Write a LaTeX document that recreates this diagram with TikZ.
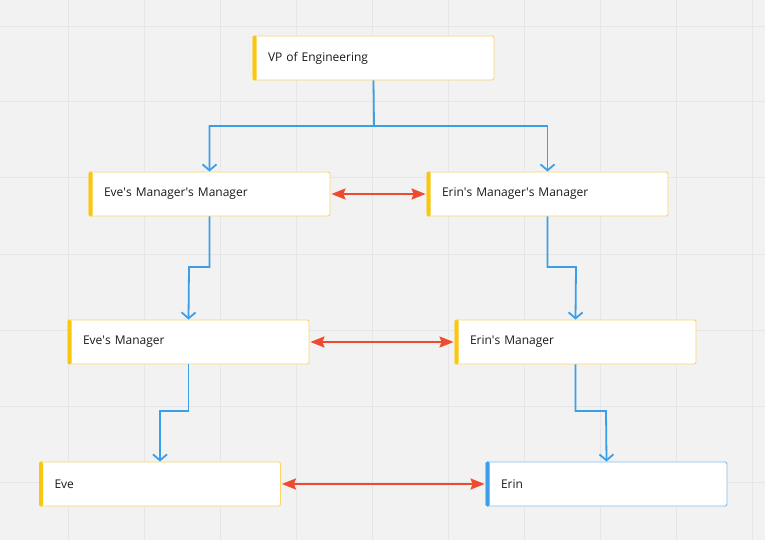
\documentclass[tikz,border=0pt]{standalone}
\usepackage{fontspec}
\setmainfont{Open Sans}
\usetikzlibrary{arrows.meta}
\definecolor{bg}{HTML}{F2F2F2}
\definecolor{gridc}{HTML}{E6E6E6}
\definecolor{yel}{HTML}{FAC710}
\definecolor{yelb}{HTML}{F9D66A}
\definecolor{blu}{HTML}{3A9FE8}
\definecolor{blub}{HTML}{7CC0F2}
\definecolor{redc}{HTML}{EE4A30}
\definecolor{txt}{HTML}{1A1A1A}
\tikzset{
  card/.style={draw=yelb, line width=0.9pt, fill=white, rounded corners=2pt,
    minimum width=241pt, minimum height=44pt, inner sep=0pt,
    text=txt, font=\fontsize{12}{14}\selectfont, align=left, text width=241pt-30pt},
  bluecard/.style={card, draw=blub},
  tree/.style={draw=blu, line width=1.8pt, -{Straight Barb[length=6pt,width=14pt,line width=1.8pt]}},
  peer/.style={draw=redc, line width=2.2pt, {Stealth[length=14pt,width=11pt,inset=2pt]}-{Stealth[length=14pt,width=11pt,inset=2pt]}, shorten <=1pt, shorten >=1pt}
}
\newcommand{\cardbar}[2]{\fill[#2, rounded corners=1.5pt] (#1.north west) rectangle ([xshift=4pt]#1.south west);}
\newcommand{\ap}{\textquotesingle}
\begin{document}
\begin{tikzpicture}[x=1pt,y=-1pt]
\fill[bg] (0,0) rectangle (765,540);
\useasboundingbox (0,0) rectangle (765,540);
\foreach \x in {68,144,220,296,372,448,524,600,676,752} \draw[gridc, line width=1pt] (\x,0) -- (\x,540);
\foreach \y in {27,102,178,254,330,406,482} \draw[gridc, line width=1pt] (0,\y) -- (765,\y);

\node[card] (vp) at (373.5,58) {VP of Engineering};
\node[card] (emm) at (209.5,194) {Eve\ap s Manager\ap s Manager};
\node[card] (rmm) at (547.5,194) {Erin\ap s Manager\ap s Manager};
\node[card] (em) at (188.5,342) {Eve\ap s Manager};
\node[card] (rm) at (575.5,342) {Erin\ap s Manager};
\node[card] (e) at (160,484) {Eve};
\node[bluecard] (r) at (606.5,484) {Erin};
\cardbar{vp}{yel}
\cardbar{emm}{yel}
\cardbar{rmm}{yel}
\cardbar{em}{yel}
\cardbar{rm}{yel}
\cardbar{e}{yel}
\cardbar{r}{blu}

\coordinate (j0) at (374,126);
\draw[tree] (vp.south) -- (j0) -| (emm.north);
\draw[tree] (j0) -| (rmm.north);
\draw[tree] (emm.south) |- (189,267) -- (em.north);
\draw[tree] (rmm.south) |- (576,267) -- (rm.north);
\draw[tree] (em.south) |- (160,411) -- (e.north);
\draw[tree] (rm.south) |- (606,411) -- (r.north);

\draw[peer] (emm.east) -- (rmm.west);
\draw[peer] (em.east) -- (rm.west);
\draw[peer] (e.east) -- (r.west);
\end{tikzpicture}
\end{document}
